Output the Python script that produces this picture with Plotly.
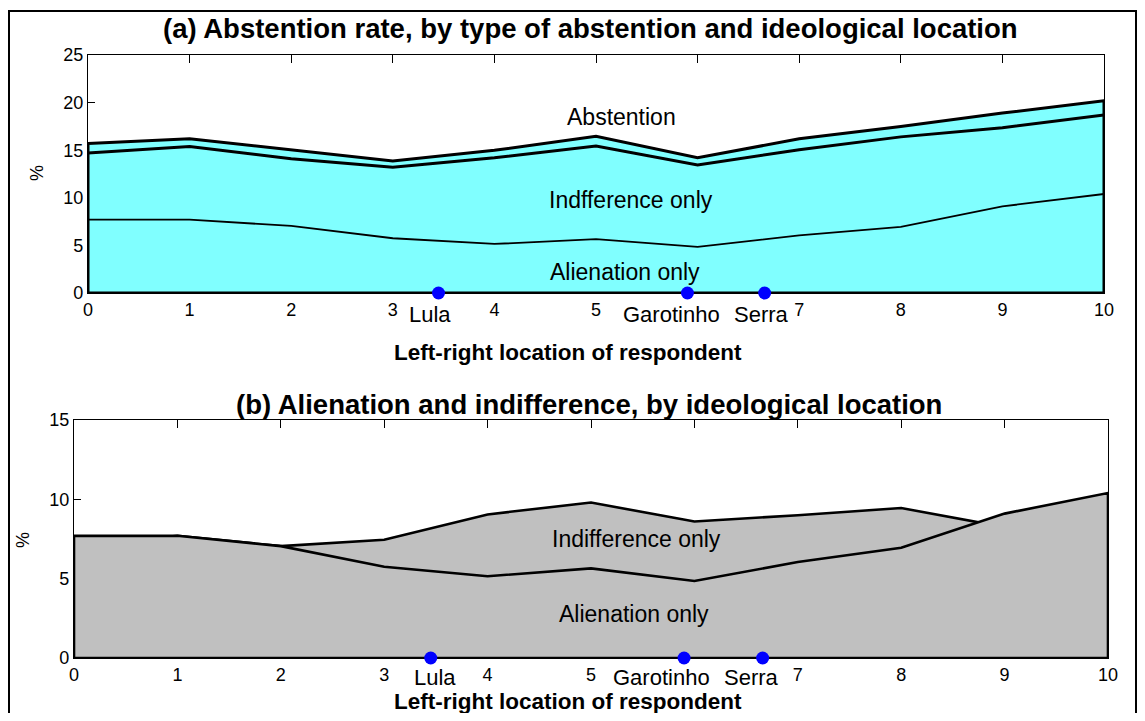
import plotly.graph_objects as go

# ---------------- data ----------------
positions = [0, 1, 2, 3, 4, 5, 6, 7, 8, 9, 10]
tick_labels = ["0", "1", "2", "3", "4", "5", "", "7", "8", "9", "10"]
alienation_only = [7.7, 7.7, 7.05, 5.75, 5.15, 5.65, 4.85, 6.05, 6.95, 9.1, 10.4]
indifference_only = [7.0, 7.7, 7.05, 7.45, 9.05, 9.8, 8.6, 9.0, 9.45, 8.25, 8.3]
both_types = [1.0, 0.8, 0.96, 0.67, 0.79, 1.01, 0.75, 1.15, 1.1, 1.55, 1.5]
candidates = ["Lula", "Garotinho", "Serra"]
candidate_positions = [3.45, 5.9, 6.66]

FONT = "Liberation Sans, Arial, sans-serif"
OFF = 8            # default page margin around the plot div
W, H = 1145 - 2 * OFF, 721 - 2 * OFF

def px_x(p):
    return (p - OFF) / W

def px_y(p):
    return 1 - (p - OFF) / H

stack_mid = [a + b for a, b in zip(alienation_only, indifference_only)]
stack_top = [m + c for m, c in zip(stack_mid, both_types)]

def polygon(xs, ys):
    return [xs[0]] + list(xs) + [xs[-1], xs[0]], [0] + list(ys) + [0, 0]

fig = go.Figure()

# ---------- panel (a) ----------
px_, py_ = polygon(positions, stack_top)
fig.add_trace(go.Scatter(x=px_, y=py_, mode="lines", fill="toself",
                         fillcolor="#80FFFF", line=dict(color="black", width=3),
                         xaxis="x", yaxis="y", hoverinfo="skip"))
fig.add_trace(go.Scatter(x=positions, y=stack_mid, mode="lines",
                         line=dict(color="black", width=3), xaxis="x", yaxis="y"))
fig.add_trace(go.Scatter(x=positions, y=alienation_only, mode="lines",
                         line=dict(color="black", width=1.8), xaxis="x", yaxis="y"))
fig.add_trace(go.Scatter(x=candidate_positions, y=[0] * len(candidates), mode="markers",
                         marker=dict(color="#0000FF", size=13), cliponaxis=False,
                         xaxis="x", yaxis="y"))

# ---------- panel (b) ----------
px_, py_ = polygon(positions, indifference_only)
fig.add_trace(go.Scatter(x=px_, y=py_, mode="lines", fill="toself",
                         fillcolor="#C0C0C0", line=dict(color="black", width=2.6),
                         xaxis="x2", yaxis="y2"))
px_, py_ = polygon(positions, alienation_only)
fig.add_trace(go.Scatter(x=px_, y=py_, mode="lines", fill="toself",
                         fillcolor="#C0C0C0", line=dict(color="black", width=2.6),
                         xaxis="x2", yaxis="y2"))
fig.add_trace(go.Scatter(x=candidate_positions, y=[0] * len(candidates), mode="markers",
                         marker=dict(color="#0000FF", size=13), cliponaxis=False,
                         xaxis="x2", yaxis="y2"))

common_x = dict(range=[0, 10], tickmode="array", tickvals=positions, ticktext=tick_labels,
                ticks="inside", ticklen=8, tickwidth=1, tickcolor="black",
                showline=True, linecolor="black", linewidth=1.2, mirror="ticks",
                showgrid=False, zeroline=False, layer="below traces",
                tickfont=dict(family=FONT, size=18, color="black"))
common_y = dict(ticks="inside", ticklen=7, tickwidth=1, tickcolor="black",
                showline=True, linecolor="black", linewidth=1.2, mirror=True,
                showgrid=False, zeroline=False, layer="below traces",
                tickfont=dict(family=FONT, size=18, color="black"))

fig.update_layout(
    width=W, height=H, margin=dict(l=0, r=0, t=0, b=0, autoexpand=False),
    paper_bgcolor="white", plot_bgcolor="white", showlegend=False,
    xaxis=dict(common_x, domain=[px_x(88), px_x(1104)], anchor="y"),
    yaxis=dict(common_y, domain=[px_y(293), px_y(55)], range=[0, 25],
               tickvals=[0, 5, 10, 15, 20, 25], anchor="x"),
    xaxis2=dict(common_x, domain=[px_x(74), px_x(1108)], anchor="y2"),
    yaxis2=dict(common_y, domain=[px_y(658), px_y(420)], range=[0, 15],
                tickvals=[0, 5, 10, 15], anchor="x2"),
)

ann = []
def text(x, y, s, size, bold=False, xref="paper", yref="paper", angle=0, **kw):
    ann.append(dict(x=x, y=y, xref=xref, yref=yref, text=f"<b>{s}</b>" if bold else s,
                    showarrow=False, textangle=angle, xanchor="center",
                    font=dict(family=FONT, size=size, color="black"), **kw))

# titles
text(px_x(590), px_y(28), "(a) Abstention rate, by type of abstention and ideological location",
     27.5, bold=True, yanchor="middle")
text(px_x(589), px_y(404), "(b) Alienation and indifference, by ideological location",
     27.5, bold=True, yanchor="middle")
text(px_x(568), px_y(352), "Left-right location of respondent", 22.5, bold=True, yanchor="middle")
text(px_x(568), px_y(701), "Left-right location of respondent", 22.5, bold=True, yanchor="middle")
text(px_x(37), px_y(173), "%", 18, angle=-90, yanchor="middle")
text(px_x(23), px_y(540), "%", 18, angle=-90, yanchor="middle")

# area labels
text(5.25, 18.5, "Abstention", 23, xref="x", yref="y", yanchor="middle")
text(5.34, 9.77, "Indfference only", 23, xref="x", yref="y", yanchor="middle")
text(5.29, 2.2, "Alienation only", 23, xref="x", yref="y", yanchor="middle")
text(5.44, 7.5, "Indifference only", 23, xref="x2", yref="y2", yanchor="middle")
text(5.42, 2.77, "Alienation only", 23, xref="x2", yref="y2", yanchor="middle")

# candidate names below the axis
shift_a = [-9, -16, -3]
shift_b = [4, -23, -11]
for name, pos, sa, sb in zip(candidates, candidate_positions, shift_a, shift_b):
    text(pos, 0, name, 22, xref="x", yref="y", yanchor="middle", yshift=-21, xshift=sa)
    text(pos, 0, name, 22, xref="x2", yref="y2", yanchor="middle", yshift=-19, xshift=sb)

fig.update_layout(annotations=ann)

# outer frame
fig.add_shape(type="rect", xref="paper", yref="paper",
              x0=px_x(9), x1=px_x(1136), y0=-0.1, y1=px_y(11),
              line=dict(color="black", width=2), fillcolor="rgba(0,0,0,0)", layer="above")

fig.write_html("out.html")
